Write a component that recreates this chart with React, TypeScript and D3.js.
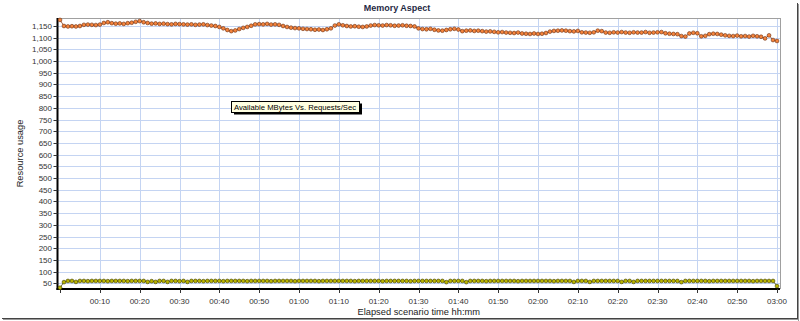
import React from "react";
import * as d3 from "d3";

const title = "Memory Aspect";
const xTitle = "Elapsed scenario time hh:mm";
const yTitle = "Resource usage";
const legendText = "Available MBytes Vs. Requests/Sec";

const xTickMinutes = [10, 20, 30, 40, 50, 60, 70, 80, 90, 100, 110, 120, 130, 140, 150, 160, 170, 180];
const yTicks = [50, 100, 150, 200, 250, 300, 350, 400, 450, 500, 550, 600, 650, 700, 750, 800, 850, 900, 950, 1000, 1050, 1100, 1150];

// Available MBytes (one point per minute, 0..180)
const availableMBytes = [
  1176, 1150, 1148, 1149, 1148, 1150, 1155, 1156, 1155, 1154,
  1156, 1163, 1166, 1162, 1160, 1161, 1159, 1162, 1164, 1168,
  1171, 1166, 1163, 1160, 1161, 1159, 1160, 1158, 1157, 1159,
  1158, 1157, 1156, 1157, 1155, 1156, 1157, 1154, 1152, 1150,
  1146, 1140, 1133, 1128, 1131, 1137, 1142, 1146, 1151, 1157,
  1158, 1157, 1159, 1156, 1157, 1155, 1150, 1146, 1143, 1141,
  1140, 1138, 1137, 1136, 1134, 1135, 1133, 1136, 1140, 1152,
  1157, 1153, 1150, 1148, 1149, 1147, 1146, 1148, 1152, 1154,
  1153, 1152, 1154, 1153, 1151, 1152, 1153, 1151, 1150, 1148,
  1140, 1137, 1136, 1138, 1134, 1131, 1130, 1133, 1136, 1138,
  1135, 1128, 1130, 1131, 1129, 1130, 1128, 1126, 1127, 1125,
  1123, 1124, 1122, 1121, 1120, 1122, 1118, 1117, 1116, 1118,
  1116, 1117, 1120, 1126, 1129, 1130, 1131, 1130, 1128, 1127,
  1129, 1123, 1122, 1121, 1123, 1130, 1128, 1122, 1121, 1123,
  1122, 1124, 1122, 1121, 1123, 1122, 1122, 1124, 1121, 1122,
  1123, 1124, 1119, 1117, 1116, 1115, 1107, 1105, 1118, 1121,
  1119, 1106, 1108, 1115, 1117, 1116, 1113, 1110, 1108, 1107,
  1109, 1106, 1107, 1105, 1108, 1106, 1104, 1097, 1110, 1090,
  1086,
];

// Requests/Sec (one point per minute, 0..180)
const requestsPerSec = [
  31, 55, 60, 60, 56, 60, 60, 59, 60, 60,
  60, 60, 59, 60, 60, 60, 60, 59, 60, 60,
  60, 60, 56, 59, 56, 60, 60, 56, 60, 60,
  59, 60, 56, 60, 60, 60, 59, 60, 60, 60,
  60, 59, 60, 60, 60, 60, 60, 59, 60, 60,
  60, 60, 60, 59, 60, 60, 60, 60, 60, 59,
  60, 60, 60, 60, 60, 59, 60, 60, 60, 60,
  60, 60, 60, 60, 59, 60, 60, 60, 60, 60,
  60, 59, 60, 60, 60, 60, 60, 60, 59, 60,
  60, 60, 60, 60, 60, 60, 60, 55, 60, 60,
  60, 60, 55, 60, 60, 60, 60, 59, 60, 60,
  60, 60, 60, 60, 60, 59, 60, 60, 60, 60,
  60, 60, 60, 60, 59, 60, 60, 60, 60, 56,
  60, 60, 60, 56, 60, 60, 60, 60, 60, 60,
  60, 56, 60, 60, 56, 60, 60, 60, 60, 60,
  60, 60, 60, 60, 60, 60, 55, 60, 60, 60,
  60, 60, 60, 59, 60, 60, 60, 60, 60, 60,
  60, 60, 60, 60, 59, 60, 60, 60, 60, 60,
  38,
];

const W = 800;
const H = 321;
const plotLeft = 57.5;
const plotRight = 780;
const plotTop = 18;
const plotBottom = 289;
const FONT = "'Liberation Sans', Arial, sans-serif";

const fmtTime = (m: number) => {
  const h = Math.floor(m / 60);
  const mm = m % 60;
  return `${String(h).padStart(2, "0")}:${String(mm).padStart(2, "0")}`;
};

export default function App() {
  const x = d3.scaleLinear().domain([0, 180]).range([60, 777]);
  const y = d3.scaleLinear().domain([25.6, 1184.2]).range([plotBottom, plotTop]);
  const fmtY = d3.format(",");

  const line = d3
    .line<number>()
    .x((_, i) => x(i))
    .y((d) => y(d));

  const series = [
    { data: availableMBytes, fill: "#f5843c", stroke: "#6a2e10", lineColor: "#8a3c18" },
    { data: requestsPerSec, fill: "#b9b400", stroke: "#3c3a00", lineColor: "#4a4800" },
  ];

  return (
    <svg
      width={W}
      height={H}
      style={{ position: "absolute", left: 0, top: 0, background: "#fff" }}
      fontFamily={FONT}
    >
      <rect x={0} y={0} width={W} height={H} fill="#fff" />
      {/* frame shadow */}
      <line x1={797.5} y1={3} x2={797.5} y2={320} stroke="#444" strokeWidth={1} />
      <line x1={798.5} y1={4} x2={798.5} y2={321} stroke="#999" strokeWidth={1} />
      <line x1={2} y1={318.5} x2={798} y2={318.5} stroke="#444" strokeWidth={1} />
      <line x1={3} y1={319.5} x2={799} y2={319.5} stroke="#999" strokeWidth={1} />

      {/* title */}
      <text x={397} y={11} textAnchor="middle" fontSize={9} fontWeight="bold" fill="#1f2a44">
        {title}
      </text>

      {/* grid */}
      {yTicks.map((t) => (
        <line key={"gy" + t} x1={plotLeft} x2={plotRight} y1={Math.round(y(t)) + 0.5} y2={Math.round(y(t)) + 0.5} stroke="#c4d4f2" strokeWidth={1} />
      ))}
      {xTickMinutes.map((t) => (
        <line key={"gx" + t} x1={Math.round(x(t)) + 0.5} x2={Math.round(x(t)) + 0.5} y1={plotTop} y2={plotBottom} stroke="#c4d4f2" strokeWidth={1} />
      ))}

      {/* plot border top/right */}
      <line x1={plotLeft} x2={plotRight} y1={plotTop + 0.5} y2={plotTop + 0.5} stroke="#a0a0a0" />
      <line x1={plotRight + 0.5} x2={plotRight + 0.5} y1={plotTop} y2={plotBottom} stroke="#a0a0a0" />

      {/* y axis */}
      <line x1={plotLeft} x2={plotLeft} y1={plotTop} y2={plotBottom + 1} stroke="#000" strokeWidth={2} />
      {yTicks.map((t) => (
        <g key={"ty" + t}>
          <line x1={53.5} x2={plotLeft} y1={Math.round(y(t)) + 0.5} y2={Math.round(y(t)) + 0.5} stroke="#333" />
          <text x={52} y={y(t) + 3} textAnchor="end" fontSize={8} fill="#333">
            {fmtY(t)}
          </text>
        </g>
      ))}
      <text
        transform={`translate(23, ${(plotTop + plotBottom) / 2}) rotate(-90)`}
        textAnchor="middle"
        fontSize={9.3}
        fill="#222"
      >
        {yTitle}
      </text>

      {/* x axis */}
      <line x1={plotLeft - 1} x2={plotRight} y1={plotBottom} y2={plotBottom} stroke="#000" strokeWidth={2} />
      {[0, ...xTickMinutes].map((t) => (
        <line key={"tx" + t} x1={Math.round(x(t)) + 0.5} x2={Math.round(x(t)) + 0.5} y1={plotBottom} y2={plotBottom + 4} stroke="#333" />
      ))}
      {xTickMinutes.map((t) => (
        <text key={"lx" + t} x={x(t)} y={303.5} textAnchor="middle" fontSize={8} fill="#333">
          {fmtTime(t)}
        </text>
      ))}
      <text x={(plotLeft + plotRight) / 2} y={315} textAnchor="middle" fontSize={9.3} fill="#222">
        {xTitle}
      </text>

      {/* series */}
      {series.map((s, si) => (
        <g key={"s" + si}>
          <path d={line(s.data) || ""} fill="none" stroke={s.lineColor} strokeWidth={0.8} />
          {s.data.map((v, i) => (
            <circle key={i} cx={x(i)} cy={y(v)} r={1.9} fill={s.fill} stroke={s.stroke} strokeWidth={0.6} />
          ))}
        </g>
      ))}

      {/* legend tooltip */}
      <rect x={234} y={103.5} width={128} height={11} fill="#000" />
      <rect x={231.5} y={101.5} width={128} height={11} fill="#ffffe1" stroke="#000" strokeWidth={1} />
      <text x={234} y={110.3} fontSize={7.7} fill="#000">
        {legendText}
      </text>
    </svg>
  );
}
